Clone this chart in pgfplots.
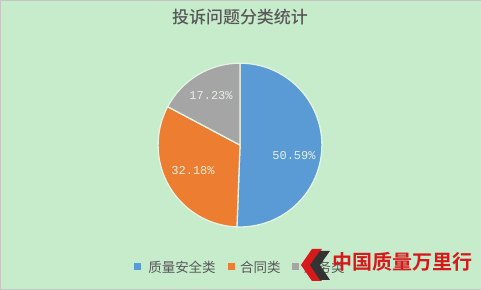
\documentclass[border=0pt]{standalone}
\usepackage{pgfplots}
\pgfplotsset{compat=1.18}
\usepackage{fontspec}
\newfontfamily\cjk{Noto Sans CJK SC}
\newfontfamily\cjkmed{Noto Sans CJK SC Medium}
\newfontfamily\cjkbold{Noto Sans CJK SC Bold}
\newfontfamily\pct{Liberation Mono}
\definecolor{bg}{HTML}{C6ECCB}
\definecolor{pieBlue}{HTML}{5B9BD5}
\definecolor{pieOrange}{HTML}{ED7D31}
\definecolor{pieGray}{HTML}{A5A5A5}
\definecolor{sep}{HTML}{E4F4E4}
\definecolor{txt}{HTML}{595959}
\definecolor{lbl}{HTML}{E2F2E2}
\definecolor{brand}{HTML}{D7191C}
\begin{document}
\begin{tikzpicture}
\begin{axis}[
  scale only axis, width=481pt, height=289pt,
  xmin=0, xmax=481, ymin=0, ymax=289,
  hide axis, clip=false]
  % background panel
  \fill[bg, draw=gray!45] (axis cs:0,0) rectangle (axis cs:481,289);
  % title
  \node[text=txt, font=\cjkmed\fontsize{17}{19}\selectfont] at (axis cs:240,272) {投诉问题分类统计};
  % pie slices: shares in percent, clockwise from 12 o'clock
  \foreach \v/\c [remember=\e as \s (initially 90)] in {50.59/pieBlue, 32.18/pieOrange, 17.23/pieGray} {
    \pgfmathsetmacro\e{\s-\v*3.6}
    \edef\slice{\noexpand\fill[\c, draw=sep, line width=1.3pt, line join=round]
      (axis cs:240,144) -- (axis cs:{240+82*cos(\s)},{144+82*sin(\s)})
      arc[start angle=\s, end angle=\e, radius=82pt] -- cycle;}
    \slice
  }
  % data labels
  \node[text=lbl, font=\pct\fontsize{12}{14}\selectfont] at (axis cs:294,134) {50.59\%};
  \node[text=lbl, font=\pct\fontsize{12}{14}\selectfont] at (axis cs:193,119) {32.18\%};
  \node[text=lbl, font=\pct\fontsize{12}{14}\selectfont] at (axis cs:211,194) {17.23\%};
  % legend
  \fill[pieBlue] (axis cs:134,18.5) rectangle (axis cs:141,25.5);
  \node[anchor=west, inner sep=0pt, text=txt, font=\cjk\fontsize{13.5}{15}\selectfont] at (axis cs:148,22) {质量安全类};
  \fill[pieOrange] (axis cs:228,18.5) rectangle (axis cs:235,25.5);
  \node[anchor=west, inner sep=0pt, text=txt, font=\cjk\fontsize{13.5}{15}\selectfont] at (axis cs:240,22) {合同类};
  \fill[pieGray] (axis cs:292,18.5) rectangle (axis cs:299,25.5);
  \node[anchor=west, inner sep=0pt, text=txt, font=\cjk\fontsize{13.5}{15}\selectfont] at (axis cs:304,22) {服务类};
  % brand mark
  \fill[brand] (axis cs:312,40) -- (axis cs:322,40) -- (axis cs:311,24) -- (axis cs:322,8)
     -- (axis cs:312,8) -- (axis cs:301,24) -- cycle;
  \fill[black!80] (axis cs:320,38) -- (axis cs:330,38) -- (axis cs:320,24) -- (axis cs:330,9)
     -- (axis cs:320,9) -- (axis cs:310,24) -- cycle;
  \node[anchor=west, inner sep=0pt, text=brand, font=\cjkbold\fontsize{20}{22}\selectfont] at (axis cs:332,27) {中国质量万里行};
\end{axis}
\end{tikzpicture}
\end{document}
